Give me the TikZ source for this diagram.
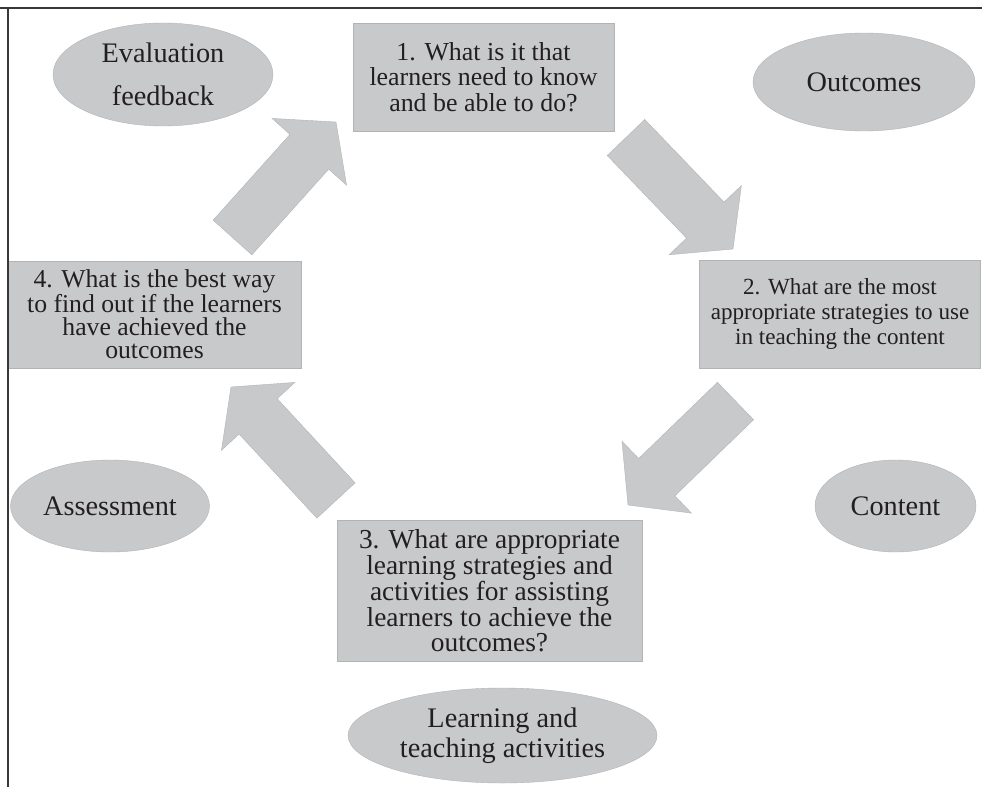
\documentclass[tikz,border=0pt]{standalone}
\usepackage{fontspec}
\setmainfont{Liberation Serif}
\usetikzlibrary{shapes.geometric,calc}

\definecolor{boxgray}{RGB}{200,201,203}
\definecolor{edgegray}{RGB}{178,179,181}
\definecolor{inkblack}{RGB}{35,31,32}
\definecolor{framegray}{RGB}{55,55,55}

\newcommand{\blockarrow}[2]{%
	\coordinate (#2-base) at ($(#2)!40pt!(#1)$);
	\path[flow] ($(#1)!26pt!90:(#2)$) -- ($(#2-base)!26pt!90:(#2)$) -- ($(#2-base)!50pt!90:(#2)$)
		-- (#2) -- ($(#2-base)!50pt!-90:(#2)$) -- ($(#2-base)!26pt!-90:(#2)$) -- ($(#1)!26pt!-90:(#2)$) -- cycle;
}

\begin{document}
\begin{tikzpicture}[x=1pt, y=-1pt,
		question/.style={rectangle, draw=edgegray, fill=boxgray, text=inkblack, inner sep=0pt, align=center},
		topic/.style={ellipse, draw=edgegray, fill=boxgray, text=inkblack, inner sep=0pt, align=center, font=\fontsize{28.3}{30}\selectfont},
		flow/.style={draw=edgegray, fill=boxgray, line join=miter}]
	\useasboundingbox (0,0) rectangle (982,787);
	
	\coordinate (A) at (232.5,237.5);
	\coordinate (B) at (336,122);
	\coordinate (C) at (626,137.5);
	\coordinate (D) at (733,249);
	\coordinate (E) at (735.5,401);
	\coordinate (F) at (628,505);
	\coordinate (G) at (336,500.5);
	\coordinate (H) at (231,387);
	
	\node[topic, minimum width=220pt, minimum height=103pt, font=\fontsize{28.3}{43}\selectfont] (evaluation) at (163,74.5) {Evaluation\\feedback};
	\node[topic, minimum width=222pt, minimum height=98pt] (outcomes) at (864,82) {Outcomes};
	\node[topic, minimum width=199pt, minimum height=92pt] (assessment) at (110,506) {Assessment};
	\node[topic, minimum width=161pt, minimum height=92pt] (content) at (895.5,506) {Content};
	\node[topic, minimum width=309pt, minimum height=95pt] (activities) at (502.5,735.5) {Learning and\\teaching activities};
	
	\node[question, minimum width=261pt, minimum height=108pt, font=\fontsize{25.9}{25.5}\selectfont] (Q1) at (483.5,77) {1. What is it that\\learners need to know\\and be able to do?};
	\node[question, minimum width=281pt, minimum height=108pt, font=\fontsize{23.1}{25}\selectfont] (Q2) at (840,314) {2. What are the most\\appropriate strategies to use\\in teaching the content};
	\node[question, minimum width=305pt, minimum height=141pt, font=\fontsize{27.4}{24.8}\selectfont] (Q3) at (489.5,590.5) {3. What are appropriate\\learning strategies and\\activities for assisting\\learners to achieve the\\outcomes?};
	\node[question, minimum width=293pt, minimum height=107pt, font=\fontsize{25.7}{23.3}\selectfont] (Q4) at (154.5,314.5) {4. What is the best way\\to find out if the learners\\have achieved the\\outcomes};
	
	\blockarrow{A}{B}
	\blockarrow{C}{D}
	\blockarrow{E}{F}
	\blockarrow{G}{H}
	
	\draw[framegray, line width=1.6pt] (0,8) -- (982,8);
	\draw[framegray, line width=1.6pt] (8,8) -- (8,787);
\end{tikzpicture}
\end{document}
